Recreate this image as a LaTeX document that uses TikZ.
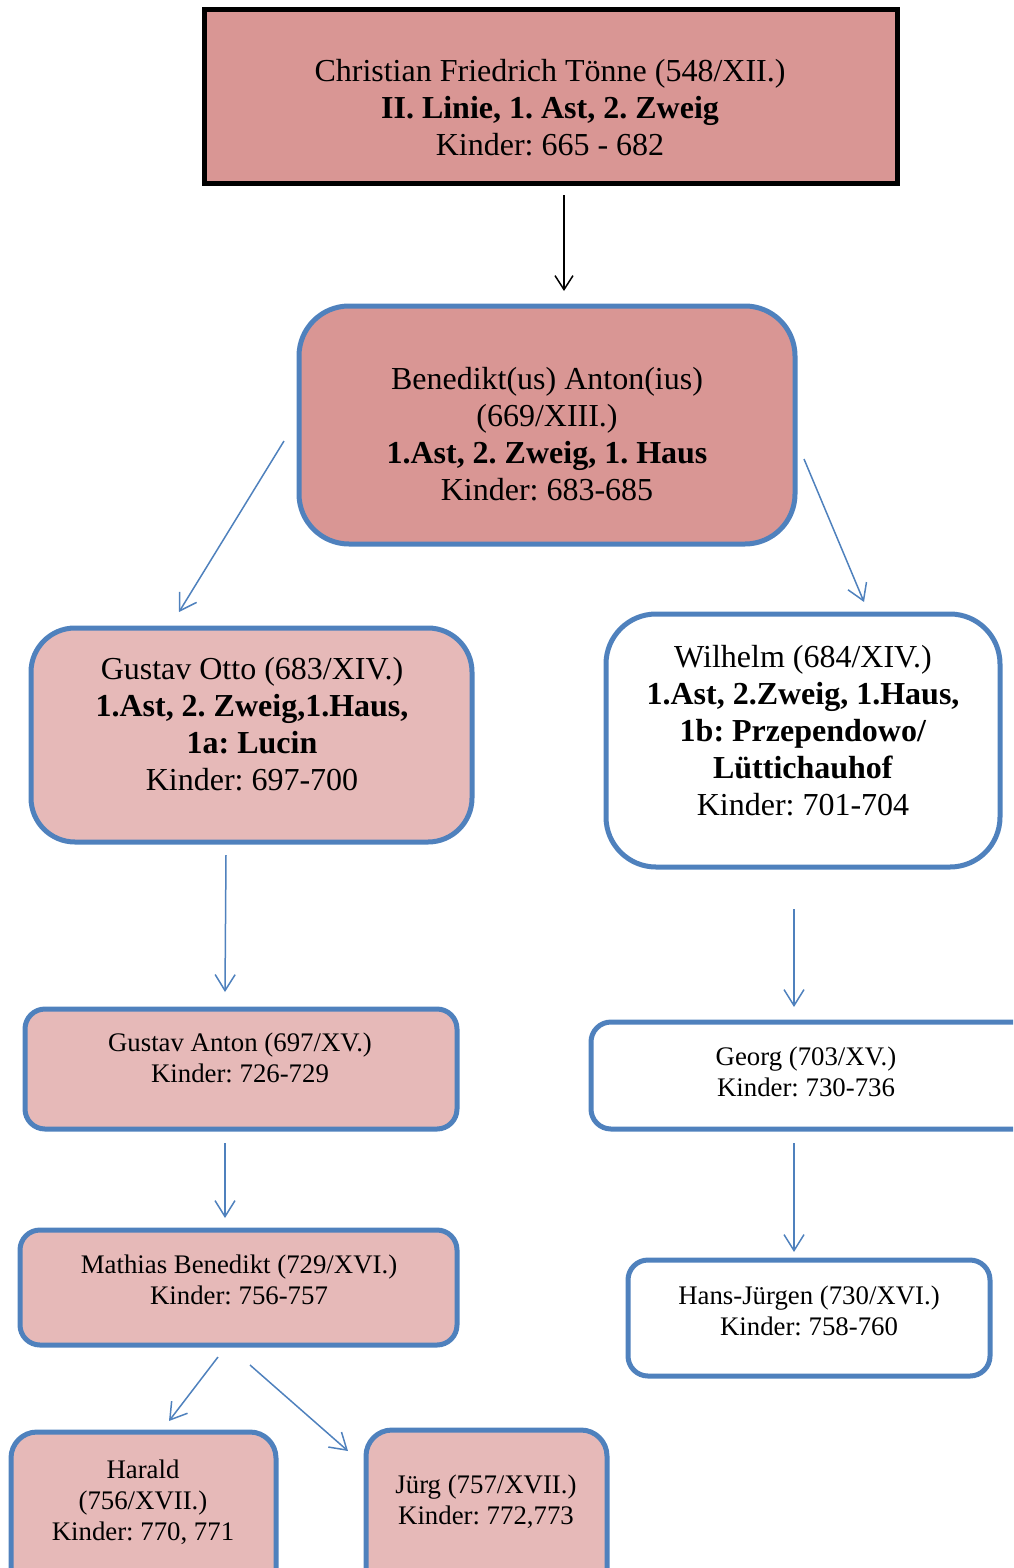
\documentclass[tikz,border=0pt]{standalone}
\usepackage{fontspec}
\setmainfont{Liberation Serif}
\usetikzlibrary{arrows.meta,fit}
\definecolor{boxblue}{HTML}{4F81BD}
\definecolor{rosedark}{HTML}{D99694}
\definecolor{roselight}{HTML}{E6B9B8}
\tikzset{
  big/.style={font=\fontsize{16pt}{18.5pt}\selectfont\frenchspacing, align=center, inner sep=0pt},
  small/.style={font=\fontsize{13.4pt}{15.5pt}\selectfont\frenchspacing, align=center, inner sep=0pt},
  rootbox/.style={draw=black, line width=2.5pt, fill=rosedark, inner sep=0pt},
  bluebox/.style={draw=boxblue, line width=2.5pt, inner sep=0pt},
  conn/.style={draw=boxblue, line width=0.75pt, -{Straight Barb[length=8pt,width=10pt]}},
  blackconn/.style={draw=black, line width=0.75pt, -{Straight Barb[length=7pt,width=9pt]}}
}
\begin{document}
\begin{tikzpicture}[x=0.5pt,y=-0.5pt]
\useasboundingbox (0,0) rectangle (1013,1568);
\clip (0,0) rectangle (1013,1568);

% boxes
\node[rootbox, fit={(204,10) (897,183)}] (root) {};
\node[bluebox, rounded corners=25pt, fill=rosedark, fit={(299,306) (795,544)}] (ben) {};
\node[bluebox, rounded corners=22pt, fill=roselight, fit={(31,628) (472,842)}] (gotto) {};
\node[bluebox, rounded corners=25pt, fill=white, fit={(606,614) (1000,867)}] (wil) {};
\node[bluebox, rounded corners=10pt, fill=roselight, fit={(25,1009) (457,1129)}] (ganton) {};
\node[bluebox, rounded corners=10pt, fill=white, fit={(591,1022) (1040,1129)}] (georg) {};
\node[bluebox, rounded corners=10pt, fill=roselight, fit={(20,1230) (457,1345)}] (mathias) {};
\node[bluebox, rounded corners=10pt, fill=white, fit={(628,1260) (990,1376)}] (hansj) {};
\node[bluebox, rounded corners=13pt, fill=roselight, fit={(11,1432) (276,1600)}] (harald) {};
\node[bluebox, rounded corners=13pt, fill=roselight, fit={(366,1430) (607,1600)}] (juerg) {};

% texts
\node[big] (troot) at (550,108) {Christian Friedrich Tönne (548/XII.)\\\textbf{II. Linie, 1. Ast, 2. Zweig}\\Kinder: 665 - 682};
\node[big] (tben) at (547,434) {Benedikt(us) Anton(ius)\\(669/XIII.)\\\textbf{1.Ast, 2. Zweig, 1. Haus}\\Kinder: 683-685};
\node[big] (tgotto) at (252,724) {Gustav Otto (683/XIV.)\\\textbf{1.Ast, 2. Zweig,1.Haus,}\\\textbf{1a: Lucin}\\Kinder: 697-700};
\node[big] (twil) at (803,731) {Wilhelm (684/XIV.)\\\textbf{1.Ast, 2.Zweig, 1.Haus,}\\\textbf{1b: Przependowo/}\\\textbf{Lüttichauhof}\\Kinder: 701-704};
\node[small] (tganton) at (240,1058) {Gustav Anton (697/XV.)\\Kinder: 726-729};
\node[small] (tgeorg) at (806,1072) {Georg (703/XV.)\\Kinder: 730-736};
\node[small] (tmathias) at (239,1280) {Mathias Benedikt (729/XVI.)\\Kinder: 756-757};
\node[small] (thansj) at (809,1311) {Hans-Jürgen (730/XVI.)\\Kinder: 758-760};
\node[small] (tharald) at (143,1502) {Harald\\(756/XVII.)\\Kinder: 770, 771};
\node[small] (tjuerg) at (486,1502) {Jürg (757/XVII.)\\Kinder: 772,773};

% connector ends
\coordinate (a1s) at (564,195);  \coordinate (a1e) at (564,291);
\coordinate (a2s) at (284,441);  \coordinate (a2e) at (179,612);
\coordinate (a3s) at (804,459);  \coordinate (a3e) at (864,602);
\coordinate (a4s) at (226,855);  \coordinate (a4e) at (225,992);
\coordinate (a5s) at (794,909);  \coordinate (a5e) at (794,1007);
\coordinate (a6s) at (225,1143); \coordinate (a6e) at (225,1218);
\coordinate (a7s) at (794,1143); \coordinate (a7e) at (794,1252);
\coordinate (a8s) at (218,1357); \coordinate (a8e) at (169,1421);
\coordinate (a9s) at (250,1365); \coordinate (a9e) at (348,1451);

% connectors
\draw[blackconn] (a1s) -- (a1e);
\draw[conn] (a2s) -- (a2e);
\draw[conn] (a3s) -- (a3e);
\draw[conn] (a4s) -- (a4e);
\draw[conn] (a5s) -- (a5e);
\draw[conn] (a6s) -- (a6e);
\draw[conn] (a7s) -- (a7e);
\draw[conn] (a8s) -- (a8e);
\draw[conn] (a9s) -- (a9e);
\end{tikzpicture}
\end{document}
